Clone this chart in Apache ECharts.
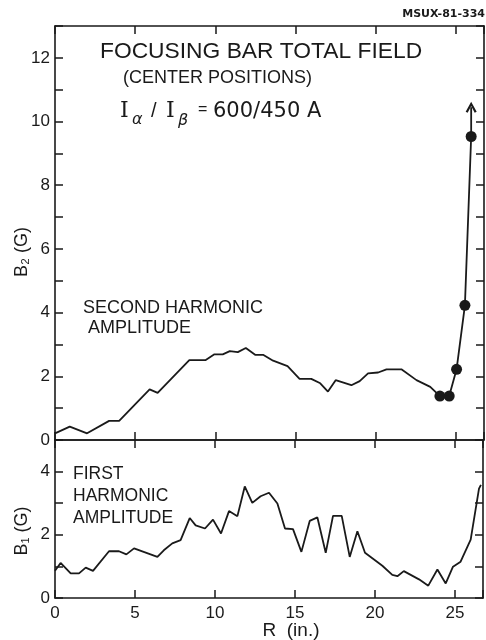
<!DOCTYPE html>
<html>
<head>
<meta charset="utf-8">
<script src="https://cdn.jsdelivr.net/npm/echarts@6/dist/echarts.min.js"></script>
<style>
html,body{margin:0;padding:0;background:#fff;}
#c{width:486px;height:640px;}
</style>
</head>
<body>
<div id="c"></div>
<script>
// Top panel: second harmonic amplitude B2 (G) vs R (in.)
const topR  = [0, 0.92, 2.0, 3.375, 4.0, 5.9, 6.4, 8.375, 9.4, 9.94, 10.46, 10.9, 11.4, 11.9, 12.5, 13.0, 13.6, 14.5, 15.25, 15.98, 16.54, 17.02, 17.5, 18.48, 19.0, 19.52, 20.15, 20.67, 21.6, 22.54, 23.4, 24.0, 24.58, 25.04, 25.56, 25.95];
const topB2 = [0.21, 0.42, 0.21, 0.6, 0.6, 1.59, 1.48, 2.51, 2.51, 2.69, 2.69, 2.79, 2.76, 2.89, 2.67, 2.67, 2.49, 2.32, 1.92, 1.92, 1.78, 1.52, 1.88, 1.72, 1.85, 2.09, 2.12, 2.22, 2.22, 1.88, 1.67, 1.38, 1.38, 2.22, 4.23, 9.53];
// measured points shown as dots
const dotR  = [24.0, 24.58, 25.04, 25.56, 25.95];
const dotB2 = [1.38, 1.38, 2.22, 4.23, 9.53];
// arrow continuing off-scale
const arrowR  = [25.95, 25.95];
const arrowB2 = [9.53, 10.45];

// Bottom panel: first harmonic amplitude B1 (G)
const botR  = [0, 0.35, 0.98, 1.5, 1.92, 2.375, 3.375, 4.0, 4.46, 4.94, 6.4, 6.8, 7.33, 7.85, 8.42, 8.79, 9.375, 9.875, 10.375, 10.875, 11.4, 11.86, 12.33, 12.85, 13.375, 13.9, 14.375, 14.875, 15.4, 15.92, 16.4, 16.92, 17.375, 17.92, 18.42, 18.9, 19.375, 20.46, 21.08, 21.4, 21.8, 22.75, 23.33, 23.9, 24.42, 24.875, 25.35, 25.98, 26.5, 26.62];
const botB1 = [0.86, 1.11, 0.78, 0.78, 0.96, 0.86, 1.48, 1.48, 1.38, 1.57, 1.30, 1.51, 1.73, 1.83, 2.53, 2.30, 2.20, 2.48, 2.04, 2.75, 2.59, 3.53, 3.01, 3.22, 3.33, 2.99, 2.20, 2.18, 1.46, 2.44, 2.55, 1.43, 2.60, 2.60, 1.30, 2.11, 1.43, 1.02, 0.73, 0.69, 0.85, 0.59, 0.39, 0.90, 0.46, 0.99, 1.15, 1.85, 3.46, 3.58];

const xTicks = [0, 5, 10, 15, 20, 25];
const topYLabels = [0, 2, 4, 6, 8, 10, 12];
const botYLabels = [0, 2, 4];

const ink = '#1a1a1a';
const FONT = 'Liberation Sans';
const zip = (a, b) => a.map((v, i) => [v, b[i]]);

const chart = echarts.init(document.getElementById('c'), null, {renderer: 'canvas'});

function xAx(grid, pos, labels) {
  return {
    type: 'value', gridIndex: grid, position: pos, min: 0, max: 26.75, interval: 5,
    axisLine: {show: true, onZero: false, lineStyle: {color: ink, width: 1.6}},
    axisTick: {show: true, inside: true, length: 8, lineStyle: {color: ink, width: 1.5}},
    splitLine: {show: false},
    axisLabel: {show: labels, color: ink, fontFamily: FONT, fontSize: 17, margin: 7,
      formatter: v => xTicks.includes(v) ? String(v) : ''}
  };
}
function yAx(grid, pos, max, labelsArr, labels) {
  return {
    type: 'value', gridIndex: grid, position: pos, min: 0, max: max, interval: 1,
    axisLine: {show: true, onZero: false, lineStyle: {color: ink, width: 1.6}},
    axisTick: {show: true, inside: true, length: 8, lineStyle: {color: ink, width: 1.5}},
    splitLine: {show: false},
    axisLabel: {show: labels, color: ink, fontFamily: FONT, fontSize: 17, margin: 5,
      formatter: v => labelsArr.includes(v) ? String(v) : ''}
  };
}

const txt = (x, y, s, size, extra) => Object.assign({
  type: 'text', x: x, y: y,
  style: Object.assign({text: s, fill: ink, font: size + 'px "' + FONT + '"', textVerticalAlign: 'middle', textAlign: 'left'}, extra || {})
});

chart.setOption({
  backgroundColor: '#ffffff',
  animation: false,
  grid: [
    {left: 55, right: 2, top: 26, height: 414},
    {left: 55, right: 2, top: 440, height: 158}
  ],
  xAxis: [
    xAx(0, 'bottom', false), xAx(0, 'top', false),
    xAx(1, 'bottom', true), xAx(1, 'top', false)
  ],
  yAxis: [
    yAx(0, 'left', 13, topYLabels, true), yAx(0, 'right', 13, topYLabels, false),
    yAx(1, 'left', 5, botYLabels, true), yAx(1, 'right', 5, botYLabels, false)
  ],
  series: [
    {type: 'line', xAxisIndex: 0, yAxisIndex: 0, data: zip(topR, topB2), symbol: 'none',
     lineStyle: {color: ink, width: 1.8}},
    {type: 'line', xAxisIndex: 0, yAxisIndex: 0, data: zip(arrowR, arrowB2), symbol: 'none',
     lineStyle: {color: ink, width: 1.8}},
    {type: 'scatter', xAxisIndex: 0, yAxisIndex: 0, data: [zip(arrowR, arrowB2)[1]],
     symbol: 'path://M0,10 L5,0 L10,10 L8.2,11 L5,4.2 L1.8,11 Z', symbolSize: [11, 11],
     itemStyle: {color: ink, opacity: 1}},
    {type: 'scatter', xAxisIndex: 0, yAxisIndex: 0, data: zip(dotR, dotB2), symbol: 'circle', symbolSize: 11,
     itemStyle: {color: ink, opacity: 1}},
    {type: 'line', xAxisIndex: 2, yAxisIndex: 2, data: zip(botR, botB1), symbol: 'none',
     lineStyle: {color: ink, width: 1.8}}
  ],
  graphic: [
    txt(485, 14, 'MSUX-81-334', 11, {font: 'bold 11px "DejaVu Sans"', textAlign: 'right'}),
    txt(100, 52, 'FOCUSING BAR TOTAL FIELD', 22.8),
    txt(123, 78, '(CENTER POSITIONS)', 18),
    txt(120, 111, 'I', 22, {font: '22px "DejaVu Serif"'}),
    txt(132, 120, 'α', 16, {font: 'italic 16px "DejaVu Sans"'}),
    txt(151, 111, '/', 20),
    txt(166, 111, 'I', 22, {font: '22px "DejaVu Serif"'}),
    txt(178, 121, 'β', 16, {font: 'italic 16px "DejaVu Sans"'}),
    txt(198, 110, '=', 16),
    txt(213, 112, '600/450 A', 21, {font: '21px "DejaVu Sans"'}),
    txt(83, 308, 'SECOND HARMONIC', 18),
    txt(88, 328, 'AMPLITUDE', 18),
    txt(73, 474, 'FIRST', 17.5),
    txt(73, 496, 'HARMONIC', 17.5),
    txt(73, 518, 'AMPLITUDE', 17.5),
    {type: 'text', x: 22, y: 252, rotation: Math.PI / 2,
     style: {text: 'B₂ (G)', fill: ink, font: '18px "' + FONT + '"', textAlign: 'center', textVerticalAlign: 'middle'}},
    {type: 'text', x: 22, y: 531, rotation: Math.PI / 2,
     style: {text: 'B₁ (G)', fill: ink, font: '18px "' + FONT + '"', textAlign: 'center', textVerticalAlign: 'middle'}},
    txt(291, 631, 'R  (in.)', 19, {textAlign: 'center'})
  ]
});
</script>
</body>
</html>
